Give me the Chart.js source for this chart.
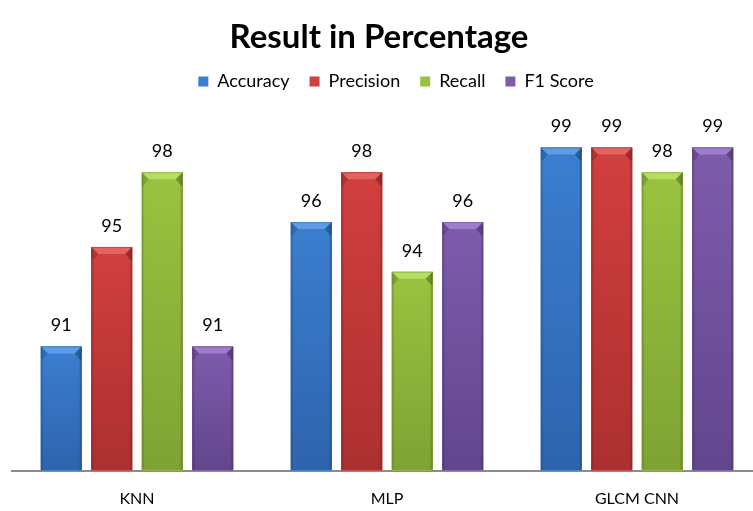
<!DOCTYPE html>
<html lang="en">
<head>
    <meta charset="UTF-8">
    <title>Result in Percentage</title>
    <script src="https://cdn.jsdelivr.net/npm/chart.js"></script>
    <style>
        html, body {
            margin: 0;
            padding: 0;
            background: #ffffff;
            overflow: hidden;
        }
        #wrap {
            width: 762px;
            height: 511px;
        }
    </style>
</head>
<body>
    <div id="wrap">
        <canvas id="resultChart" width="762" height="511"></canvas>
    </div>

    <script>
        // Chart data
        const models = ['KNN', 'MLP', 'GLCM CNN'];
        const metricNames = ['Accuracy', 'Precision', 'Recall', 'F1 Score'];
        const accuracy = [91, 96, 99];
        const precision = [95, 98, 99];
        const recall = [98, 94, 98];
        const f1Score = [91, 96, 99];

        // base / light / dark per series
        const palette = [
            ['#3b7ed0', '#5f9ce6', '#2e64ad'],
            ['#d23f3f', '#e36262', '#ac3030'],
            ['#99c33f', '#b7dc62', '#7ea334'],
            ['#7e5cac', '#9c7ecb', '#62468d']
        ];

        // extra room under the legend, and nudge title/legend like the original
        const legendSpace = {
            id: 'legendSpace',
            beforeInit(chart) {
                const fit = chart.legend.fit;
                chart.legend.fit = function () {
                    fit.call(this);
                    this.height += 22;
                };
            },
            afterLayout(chart) {
                chart.legend.left += 9;
                chart.legend.right += 9;
                chart.titleBlock.left -= 8;
                chart.titleBlock.right -= 8;
            }
        };

        // Bevelled bars + value labels
        const bevelBars = {
            id: 'bevelBars',
            afterDatasetsDraw(chart) {
                const ctx = chart.ctx;
                const area = chart.chartArea;
                chart.data.datasets.forEach((ds, di) => {
                    const meta = chart.getDatasetMeta(di);
                    const [base, light, dark] = palette[di];
                    meta.data.forEach((bar, i) => {
                        const p = bar.getProps(['x', 'y', 'base', 'width'], true);
                        const l = p.x - p.width / 2, r = p.x + p.width / 2;
                        const t = p.y, b = Math.min(p.base, area.bottom - 1);
                        const bv = 7;

                        ctx.save();
                        // body
                        const g = ctx.createLinearGradient(0, t, 0, b);
                        g.addColorStop(0, base);
                        g.addColorStop(1, dark);
                        ctx.fillStyle = g;
                        ctx.fillRect(l, t, r - l, b - t);

                        // side edges
                        const sg = ctx.createLinearGradient(l, 0, r, 0);
                        sg.addColorStop(0, 'rgba(0,0,0,0.22)');
                        sg.addColorStop(0.07, 'rgba(0,0,0,0)');
                        sg.addColorStop(0.93, 'rgba(0,0,0,0)');
                        sg.addColorStop(1, 'rgba(0,0,0,0.28)');
                        ctx.fillStyle = sg;
                        ctx.fillRect(l, t, r - l, b - t);

                        // top bevel
                        ctx.beginPath();
                        ctx.moveTo(l, t);
                        ctx.lineTo(r, t);
                        ctx.lineTo(r - bv, t + bv);
                        ctx.lineTo(l + bv, t + bv);
                        ctx.closePath();
                        ctx.fillStyle = light;
                        ctx.fill();

                        // bevel corner shading
                        ctx.globalAlpha = 0.25;
                        ctx.fillStyle = '#000000';
                        ctx.beginPath();
                        ctx.moveTo(r, t);
                        ctx.lineTo(r - bv, t + bv);
                        ctx.lineTo(r - 2, t + bv + 6);
                        ctx.lineTo(r, t + bv + 6);
                        ctx.closePath();
                        ctx.fill();
                        ctx.globalAlpha = 0.15;
                        ctx.beginPath();
                        ctx.moveTo(l, t);
                        ctx.lineTo(l + bv, t + bv);
                        ctx.lineTo(l + 2, t + bv + 6);
                        ctx.lineTo(l, t + bv + 6);
                        ctx.closePath();
                        ctx.fill();

                        // outline
                        ctx.globalAlpha = 0.5;
                        ctx.strokeStyle = dark;
                        ctx.lineWidth = 1;
                        ctx.strokeRect(l + 0.5, t + 0.5, r - l - 1, b - t - 1);
                        ctx.restore();

                        // value label
                        ctx.save();
                        ctx.fillStyle = '#000000';
                        ctx.font = '18px Lato';
                        ctx.textAlign = 'center';
                        ctx.textBaseline = 'middle';
                        ctx.fillText(ds.data[i], p.x, t - 21);
                        ctx.restore();
                    });
                });
            }
        };

        new Chart(document.getElementById('resultChart'), {
            type: 'bar',
            data: {
                labels: models,
                datasets: [
                    { label: metricNames[0], data: accuracy, backgroundColor: palette[0][0] },
                    { label: metricNames[1], data: precision, backgroundColor: palette[1][0] },
                    { label: metricNames[2], data: recall, backgroundColor: palette[2][0] },
                    { label: metricNames[3], data: f1Score, backgroundColor: palette[3][0] }
                ]
            },
            options: {
                responsive: false,
                animation: false,
                layout: {
                    padding: { left: 12, right: 0, top: 0, bottom: -15 }
                },
                datasets: {
                    bar: {
                        categoryPercentage: 0.808,
                        barPercentage: 0.81
                    }
                },
                plugins: {
                    title: {
                        display: true,
                        text: 'Result in Percentage',
                        color: '#000000',
                        font: { family: 'Lato', size: 33, weight: 'bold' },
                        padding: { top: 18, bottom: -5 }
                    },
                    legend: {
                        position: 'top',
                        labels: {
                            color: '#000000',
                            font: { family: 'Lato', size: 18 },
                            boxWidth: 10,
                            boxHeight: 10,
                            padding: 20
                        }
                    },
                    tooltip: { enabled: false }
                },
                scales: {
                    x: {
                        grid: { display: false, drawTicks: false },
                        border: { display: true, color: '#8c8c8c', width: 2 },
                        ticks: {
                            color: '#000000',
                            font: { family: 'Lato', size: 16 },
                            padding: 18
                        }
                    },
                    y: {
                        display: false,
                        min: 86,
                        max: 100
                    }
                }
            },
            plugins: [bevelBars, legendSpace]
        });
    </script>
</body>
</html>
